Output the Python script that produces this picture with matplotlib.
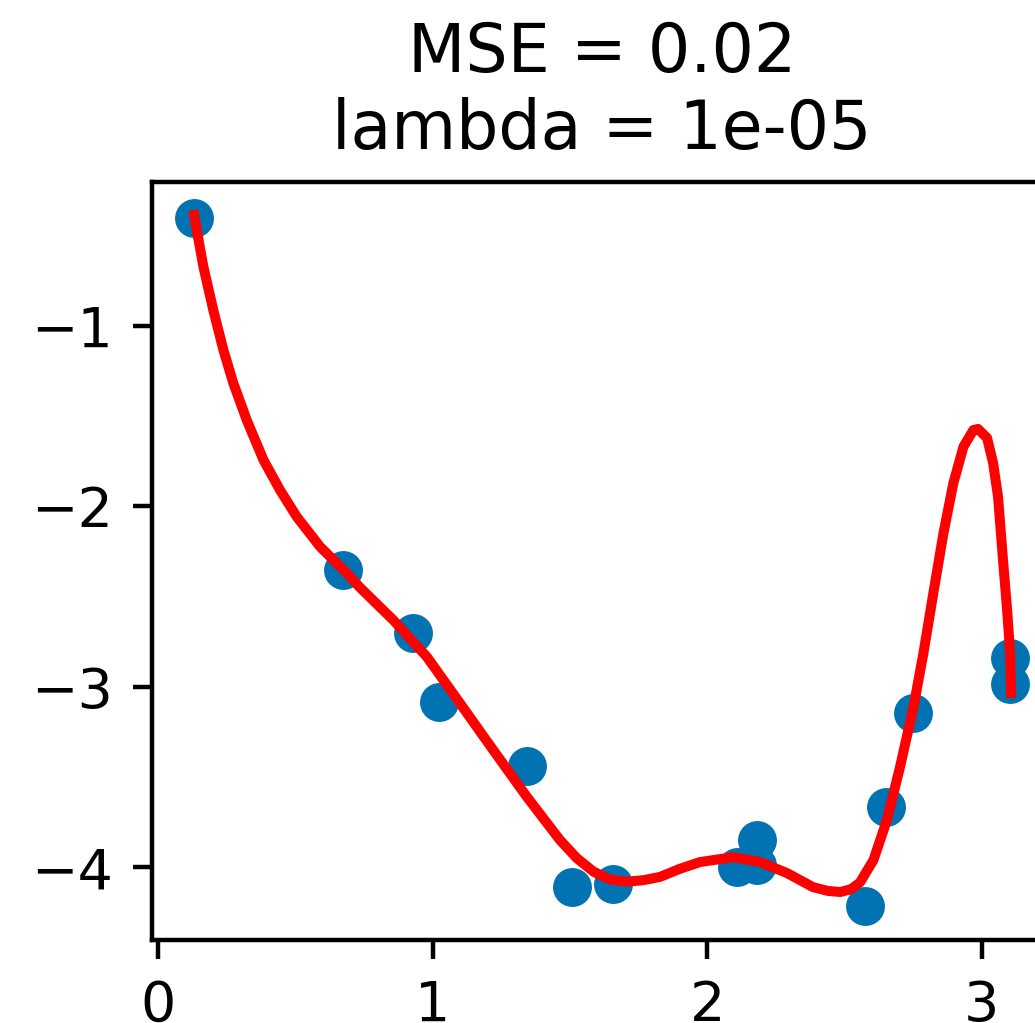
import numpy as np
import matplotlib
matplotlib.use('Agg')
import matplotlib.pyplot as plt

# observed samples
x_data = [0.131, 0.674, 0.929, 1.024, 1.344, 1.508, 1.658, 2.109, 2.182, 2.182,
          2.576, 2.652, 2.750, 3.104, 3.104]
y_data = [-0.404, -2.355, -2.704, -3.086, -3.440, -4.111, -4.094, -3.999, -3.850, -3.989,
          -4.216, -3.668, -3.147, -2.839, -2.983]

# fitted curve
x_fit = [0.131, 0.165, 0.201, 0.238, 0.274, 0.323, 0.384, 0.444, 0.505, 0.590,
         0.687, 0.736, 0.857, 0.979, 1.100, 1.221, 1.343, 1.464, 1.525, 1.586,
         1.645, 1.707, 1.770, 1.829, 1.900, 1.974, 2.095, 2.193, 2.291, 2.386,
         2.440, 2.485, 2.525, 2.557, 2.606, 2.655, 2.703, 2.752, 2.788, 2.824,
         2.861, 2.897, 2.934, 2.970, 2.987, 3.020, 3.042, 3.060, 3.078, 3.093,
         3.104, 3.107]
y_fit = [-0.388, -0.674, -0.914, -1.136, -1.319, -1.524, -1.745, -1.911, -2.059, -2.225,
         -2.371, -2.452, -2.632, -2.835, -3.093, -3.352, -3.610, -3.850, -3.950, -4.025,
         -4.068, -4.081, -4.072, -4.054, -4.010, -3.972, -3.945, -3.972, -4.033, -4.111,
         -4.132, -4.138, -4.122, -4.085, -3.961, -3.740, -3.444, -3.112, -2.816, -2.484,
         -2.151, -1.874, -1.671, -1.579, -1.573, -1.623, -1.762, -1.950, -2.299, -2.576,
         -2.814, -3.036]

mse = 0.02
lam = 1e-05

fig = plt.figure(figsize=(1035 / 400, 1023 / 400), dpi=400)
ax = fig.add_axes([0.1469, 0.0811, 0.8694, 0.7410])
ax.scatter(x_data, y_data, color='#0173b2')
ax.plot(x_fit, y_fit, color='red', lw=1.8)
ax.set_xlim(-0.022, 3.256)
ax.set_ylim(-4.404, -0.205)
ax.set_xticks([0, 1, 2, 3])
ax.set_yticks([-1, -2, -3, -4])
ax.set_title('MSE = {}\nlambda = {}'.format(mse, lam))

fig.savefig('out.png', dpi=400)
